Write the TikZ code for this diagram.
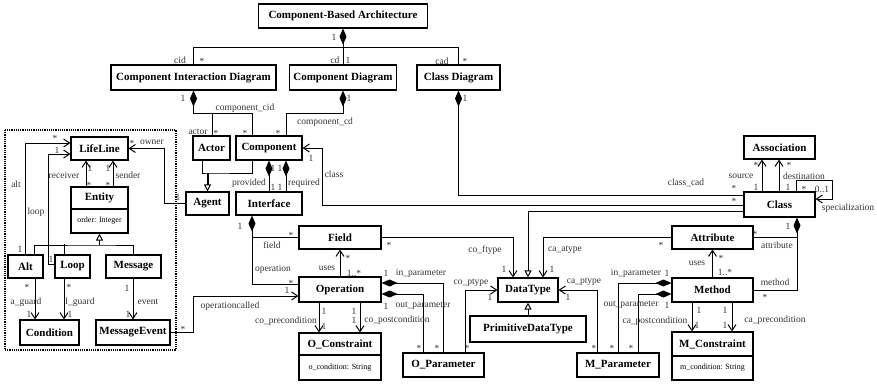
\documentclass[tikz,border=0pt]{standalone}
\usepackage{fontspec}
\setmainfont{Liberation Serif}
\usetikzlibrary{arrows.meta,positioning}
\tikzset{
  cls/.style={draw, line width=1.1pt, fill=white, font=\bfseries\fontsize{11}{13}\selectfont, inner sep=1pt, minimum height=24pt},
  clsattr/.style={draw, line width=1.1pt, fill=white, font=\fontsize{8}{10}\selectfont, inner sep=1pt, minimum height=24pt},
  lbl/.style={font=\fontsize{9.5}{11}\selectfont, text=black!80, inner sep=0pt},
  conn/.style={draw, line width=1pt},
  navig/.style={conn, -{Straight Barb[length=6pt,width=8pt,line width=1pt]}},
  compo/.style={conn, {Diamond[length=16pt,width=7pt]}-},
  inherit/.style={conn, -{Triangle[open,length=7pt,width=7pt,line width=1pt]}}
}
\newcount\lblcnt
\def\lbl(#1)#2{\global\advance\lblcnt by 1\relax\node[lbl] (lbl\the\lblcnt) at (#1) {#2};}

\begin{document}
\begin{tikzpicture}[x=1pt,y=-1pt]
		%%%%% START %%%%%
		\useasboundingbox (0,0) rectangle (877,383);
		
		% diagrams
		\node[cls, minimum width=169pt] (cba) at (343,16) {Component-Based Architecture};
		\node[cls, minimum width=165pt, minimum height=25pt] (cid) at (193.5,77.5) {Component Interaction Diagram};
		\node[cls, minimum width=107pt, minimum height=25pt] (cdiag) at (343,77.5) {Component Diagram};
		\node[cls, minimum width=83pt, minimum height=25pt] (cldiag) at (458.5,77.5) {Class Diagram};
		
		% components
		\node[cls, minimum width=37pt] (actor) at (211.5,148) {Actor};
		\node[cls, minimum width=66pt] (component) at (269,148) {Component};
		\node[cls, minimum width=43pt, minimum height=23pt] (agent) at (207.5,203.5) {Agent};
		\node[cls, minimum width=66pt, minimum height=23pt] (iface) at (269,203.5) {Interface};
		
		% interaction part
		\draw[densely dotted, line width=1.2pt] (5,130) rectangle (176,350);
		\node[cls, minimum width=57pt, minimum height=23pt] (lifeline) at (99.5,148.5) {LifeLine};
		\node[cls, minimum width=57pt, minimum height=22pt] (entity) at (99.5,198) {Entity};
		\node[clsattr, minimum width=57pt, below=-1.1pt of entity] (entityattr) {order: Integer};
		\node[cls, minimum width=35pt, minimum height=23pt] (alt) at (25.5,266.5) {Alt};
		\node[cls, minimum width=35pt, minimum height=23pt] (loop) at (72.5,266.5) {Loop};
		\node[cls, minimum width=55pt, minimum height=23pt] (message) at (133.5,266.5) {Message};
		\node[cls, minimum width=59pt, minimum height=25pt] (condition) at (49.5,332.5) {Condition};
		\node[cls, minimum width=74pt, minimum height=25pt] (msgevent) at (133,332.5) {MessageEvent};
		
		% operations and types
		\node[cls, minimum width=82pt, minimum height=23pt] (field) at (340,237.5) {Field};
		\node[cls, minimum width=82pt, minimum height=25pt] (operation) at (340,289.5) {Operation};
		\node[cls, minimum width=82pt, minimum height=22pt] (ocons) at (340,344) {O\_Constraint};
		\node[clsattr, minimum width=82pt, minimum height=25pt, below=-1.1pt of ocons] (oconsattr) {o\_condition: String};
		\node[cls, minimum width=81pt] (oparam) at (443.5,365) {O\_Parameter};
		\node[cls, minimum width=60pt] (datatype) at (528,290) {DataType};
		\node[cls, minimum width=116pt, minimum height=26pt] (primtype) at (528,329) {PrimitiveDataType};
		\node[cls, minimum width=82pt] (mparam) at (618,365) {M\_Parameter};
		
		% classes
		\node[cls, minimum width=71pt, minimum height=23pt] (assoc) at (779.5,147.5) {Association};
		\node[cls, minimum width=71pt, minimum height=25pt] (class) at (779.5,204.5) {Class};
		\node[cls, minimum width=81pt, minimum height=23pt] (attribute) at (712.5,237.5) {Attribute};
		\node[cls, minimum width=81pt] (method) at (712.5,290) {Method};
		\node[cls, minimum width=81pt] (mcons) at (712.5,344) {M\_Constraint};
		\node[clsattr, minimum width=81pt, below=-1.1pt of mcons] (mconsattr) {m\_condition: String};
		
		% top compositions
		\coordinate (cbabus) at (343,47);
		\draw[compo] (cba.south) -- (cbabus) -| (cid.north);
		\draw[conn] (cbabus) -| (cldiag.north);
		\draw[conn] (cbabus) -- (cdiag.north);
		\coordinate (cidbus) at (212,113);
		\draw[compo] (cid.south) -- ++(0,23) -| (component.north -| 252,0);
		\draw[conn] (cidbus) -- (actor.north -| 212,0);
		\draw[compo] (cdiag.south) -- ++(0,23) -| (component.north -| 286,0);
		\draw[compo] (cldiag.south) |- (class.west |- 0,195);
		
		% agents
		\coordinate (agentbus) at (207.5,173);
		\draw[conn] (actor.south -| 202,0) |- (agentbus) -| (component.south -| 252,0);
		\draw[inherit, line width=2pt] (agentbus) -- (agent.north);
		\draw[navig] (agent.west) -| (164,148.5) -- (lifeline.east);
		\draw[compo] (component.south -| 269,0) -- (iface.north -| 269,0);
		\draw[compo] (component.south -| 286,0) -- (iface.north -| 286,0);
		\draw[navig] (class.west |- 0,205) -| (322,148) -- (component.east);
		
		% interaction
		\draw[navig] (entity.north -| 86,0) -- (lifeline.south -| 86,0);
		\draw[navig] (entity.north -| 113,0) -- (lifeline.south -| 113,0);
		\coordinate (entitybus) at (99.5,245);
		\draw[inherit] (entitybus) -- (entityattr.south);
		\draw[conn] (alt.north -| 34,0) |- (entitybus) -| (message.north);
		\draw[conn] (loop.north -| 64,0) -- ++(0,-10);
		\draw[navig] (alt.north -| 25,0) |- (lifeline.west |- 0,143);
		\draw[navig] (loop.west |- 0,264) -| (48,154) -- (lifeline.west |- 0,154);
		\draw[navig] (alt.south -| 35,0) -- (condition.north -| 35,0);
		\draw[navig] (loop.south -| 64,0) -- (condition.north -| 64,0);
		\draw[navig] (message.south -| 133,0) -- (msgevent.north -| 133,0);
		\draw[navig] (msgevent.east) -| (193,296) -- (operation.west |- 0,296);
		
		% operations
		\coordinate (fieldbus) at (252,237.5);
		\draw[compo] (iface.south -| 252,0) |- (operation.west |- 0,284);
		\draw[conn] (fieldbus) -- (field.west);
		\draw[navig] (operation.north) -- (field.south);
		\draw[navig] (field.east) -| (datatype.north -| 513,0);
		\draw[navig] (attribute.west) -| (datatype.north -| 543,0);
		\draw[inherit] (class.west |- 0,211) -| (datatype.north);
		\draw[compo] (operation.east |- 0,283) -| (oparam.north -| 443,0);
		\draw[compo] (operation.east |- 0,294) -| (oparam.north -| 423,0);
		\draw[navig] (oparam.north -| 465,0) |- (datatype.west);
		\draw[inherit] (primtype.north) -- (datatype.south);
		\draw[navig] (mparam.north -| 597,0) |- (datatype.east);
		\draw[compo] (method.west |- 0,283) -| (mparam.north -| 618,0);
		\draw[compo] (method.west |- 0,294) -| (mparam.north -| 638,0);
		\draw[navig] (operation.south -| 319,0) -- (ocons.north -| 319,0);
		\draw[navig] (operation.south -| 360,0) -- (ocons.north -| 360,0);
		\draw[navig] (method.south -| 692,0) -- (mcons.north -| 692,0);
		\draw[navig] (method.south -| 732,0) -- (mcons.north -| 732,0);
		\draw[navig] (method.north) -- (attribute.south);
		
		% classes
		\coordinate (attrbus) at (797,237.5);
		\draw[compo] (class.south -| 797,0) |- (method.east);
		\draw[conn] (attrbus) -- (attribute.east);
		\draw[navig] (class.north -| 762,0) -- (assoc.south -| 762,0);
		\draw[navig] (class.north -| 779,0) -- (assoc.south -| 779,0);
		\draw[navig] (class.north -| 796,0) |- (832,180) |- (class.east |- 0,199);
		
		% labels
		\lbl(334,37){1}
		\lbl(180,60){cid} \lbl(202,61){*}
		\lbl(335,60){cd} \lbl(348,60){1}
		\lbl(442,61){cad} \lbl(465,61){*}
		\lbl(183,98){1} \lbl(349,98){1} \lbl(465,98){1}
		\lbl(245,108){component\_cid}
		\lbl(325,122){component\_cd}
		\lbl(198,132){actor} \lbl(216,133){*} \lbl(245,133){*} \lbl(278,133){*}
		
		\lbl(55,138){*} \lbl(57,150){1}
		\lbl(132,143){*} \lbl(152,142){owner}
		\lbl(16,184){alt} \lbl(36,212){loop}
		\lbl(64,175){receiver} \lbl(90,168){1} \lbl(89,185){*}
		\lbl(108,168){1} \lbl(128,175){sender} \lbl(108,185){*}
		\lbl(178,197){1}
		\lbl(20,249){1} \lbl(51,259){1}
		\lbl(27,287){*} \lbl(26,302){a\_guard} \lbl(29,314){1}
		\lbl(69,287){*} \lbl(80,302){l\_guard} \lbl(70,314){1}
		\lbl(127,288){1} \lbl(148,302){event} \lbl(128,314){1}
		\lbl(183,329){*} \lbl(230,306){operationcalled} \lbl(287,290){1}
		
		\lbl(273,168){1} \lbl(280,168){1} \lbl(273,187){1} \lbl(280,187){1}
		\lbl(249,183){provided} \lbl(304,183){required}
		\lbl(311,158){1} \lbl(334,174){class}
		\lbl(240,226){1} \lbl(291,235){*} \lbl(272,245){field}
		\lbl(389,245){*}
		\lbl(273,269){operation} \lbl(291,283){*}
		\lbl(327,268){uses} \lbl(348,258){*} \lbl(354,273){1..*}
		\lbl(386,273){1} \lbl(421,273){in\_parameter}
		\lbl(386,306){1} \lbl(423,306){out\_parameter}
		\lbl(471,283){co\_ptype} \lbl(490,297){1}
		\lbl(485,250){co\_ftype} \lbl(504,269){1}
		\lbl(552,269){1} \lbl(565,250){ca\_atype}
		\lbl(661,245){*}
		\lbl(324,311){1} \lbl(286,321){co\_precondition} \lbl(324,326){1}
		\lbl(354,311){1} \lbl(354,320){1} \lbl(397,320){co\_postcondition}
		\lbl(419,348){*} \lbl(437,348){*} \lbl(467,348){*}
		\lbl(584,282){ca\_ptype} \lbl(568,297){1}
		\lbl(636,273){in\_parameter} \lbl(667,273){1}
		\lbl(631,305){out\_parameter} \lbl(667,305){1}
		\lbl(655,321){ca\_postcondition}
		\lbl(594,348){*} \lbl(612,348){*} \lbl(631,348){*}
		\lbl(697,263){uses} \lbl(721,258){*} \lbl(725,272){1..*}
		\lbl(775,282){method} \lbl(765,297){*}
		\lbl(699,310){1} \lbl(697,325){1} \lbl(725,310){1} \lbl(725,325){1}
		\lbl(775,320){ca\_precondition}
		
		\lbl(686,183){class\_cad} \lbl(734,188){*} \lbl(734,201){*}
		\lbl(756,165){*} \lbl(741,176){source} \lbl(756,187){1}
		\lbl(789,165){*} \lbl(804,176){destination} \lbl(788,187){1}
		\lbl(804,189){*} \lbl(822,189){0..1}
		\lbl(848,208){specialization}
		\lbl(788,226){1} \lbl(755,234){*} \lbl(777,245){attribute}
		%%%%% END %%%%%
	\end{tikzpicture}
\end{document}
